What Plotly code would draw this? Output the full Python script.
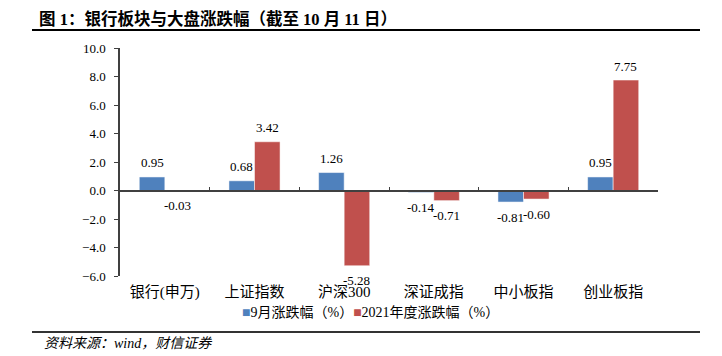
import plotly.graph_objects as go

categories = ["银行(申万)", "上证指数", "沪深300", "深证成指", "中小板指", "创业板指"]
sep_change = [0.95, 0.68, 1.26, -0.14, -0.81, 0.95]
ytd_change = [-0.03, 3.42, -5.28, -0.71, -0.60, 7.75]
series_names = ["9月涨跌幅（%）", "2021年度涨跌幅（%）"]
y_ticks = [10, 8, 6, 4, 2, 0, -2, -4, -6]

OFF = 8  # page body margin
W, H = 722 - OFF, 356 - OFF
L, R, T, B = 120 - OFF, 64, 47.5 - OFF, 80
PW, PH = W - L - R, H - T - B

def px(x):
    return (x - OFF - L) / PW

def py(y):
    return (H - B - (y - OFF)) / PH

BLUE = "#4F81BD"
RED = "#C0504D"
NUMFONT = "Liberation Serif, Times New Roman, Noto Sans CJK SC"
CJK = "Liberation Serif, Noto Sans CJK SC"

fig = go.Figure()
fig.add_trace(go.Bar(x=categories, y=sep_change, name=series_names[0],
                     marker=dict(color=BLUE, line=dict(color="rgba(255,255,255,0.5)", width=1)),
                     showlegend=False))
fig.add_trace(go.Bar(x=categories, y=ytd_change, name=series_names[1],
                     marker=dict(color=RED, line=dict(color="rgba(255,255,255,0.5)", width=1)),
                     showlegend=False))
# invisible trace to carry the zero-line category axis
fig.add_trace(go.Scatter(x=categories, y=[0]*len(categories), xaxis="x2", yaxis="y",
                         mode="markers", marker=dict(opacity=0), hoverinfo="skip", showlegend=False))

annotations = []
bw = PW / len(categories) * (1 - 0.43) / 2
for i, c in enumerate(categories):
    for v, shift in ((sep_change[i], -bw / 2), (ytd_change[i], bw / 2)):
        annotations.append(dict(x=c, y=v, xref="x", yref="y", xshift=shift,
                                yshift=14 if v >= 0 else -15, yanchor="middle",
                                text=f"{v:.2f}", showarrow=False,
                                font=dict(family=NUMFONT, size=13, color="#000")))

annotations.append(dict(x=px(37), y=py(18), xref="paper", yref="paper", xanchor="left", yanchor="middle",
                        text="<b>图 1：银行板块与大盘涨跌幅（截至 10 月 11 日）</b>", showarrow=False,
                        font=dict(family=CJK, size=16.5, color="#000")))
annotations.append(dict(x=px(370), y=py(313), xref="paper", yref="paper", xanchor="center", yanchor="middle",
                        text=f"<span style='color:{BLUE}'>■</span>{series_names[0]}<span style='color:{RED}'>■</span>{series_names[1]}",
                        showarrow=False, font=dict(family=CJK, size=14, color="#000")))
annotations.append(dict(x=px(42), y=py(344), xref="paper", yref="paper", xanchor="left", yanchor="middle",
                        text="<i>资料来源：wind，财信证券</i>", showarrow=False,
                        font=dict(family=CJK, size=14, color="#000")))

shapes = [
    dict(type="line", xref="paper", yref="paper", x0=px(32), x1=px(700), y0=py(29.5), y1=py(29.5),
         line=dict(color="#000", width=2)),
    dict(type="line", xref="paper", yref="paper", x0=px(32), x1=px(700), y0=py(332), y1=py(332),
         line=dict(color="#333", width=2)),
]

fig.update_layout(
    width=W, height=H,
    margin=dict(l=L, r=R, t=T, b=B, autoexpand=False),
    paper_bgcolor="white", plot_bgcolor="white",
    barmode="group", bargap=0.43, bargroupgap=0,
    annotations=annotations, shapes=shapes,
    xaxis=dict(showline=False, ticks="", showgrid=False, zeroline=False,
               tickfont=dict(family=CJK, size=15, color="#000"), ticklabelstandoff=5,
               range=[-0.5, 5.5]),
    xaxis2=dict(overlaying="x", anchor="free", position=6/16, matches="x",
                showline=True, linecolor="#404040", linewidth=1.5,
                ticks="inside", tickson="boundaries", ticklen=3, tickcolor="#404040",
                showticklabels=False, showgrid=False, zeroline=False),
    yaxis=dict(range=[-6, 10], tickvals=y_ticks, tickformat=".1f",
               showline=True, linecolor="#404040", linewidth=1.5,
               ticks="outside", ticklen=4, tickcolor="#404040",
               showgrid=False, zeroline=False, ticklabelstandoff=6,
               tickfont=dict(family=NUMFONT, size=13, color="#000")),
)

fig.write_html("out.html")
